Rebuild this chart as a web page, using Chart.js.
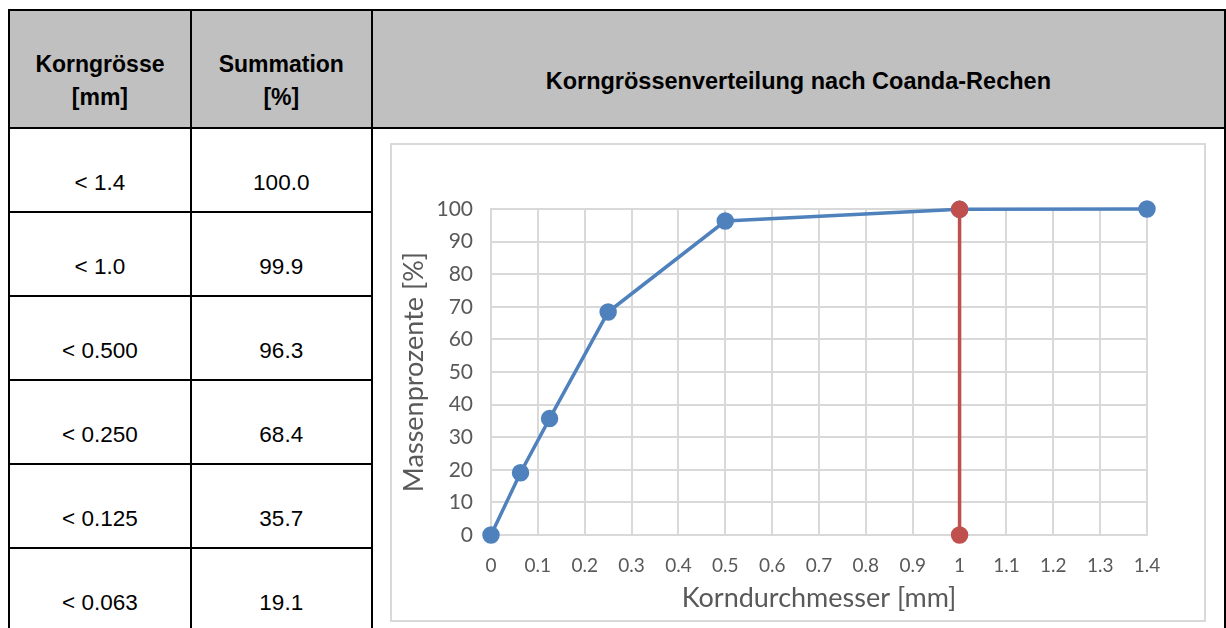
<!DOCTYPE html>
<html>
<head>
<meta charset="utf-8">
<script src="https://cdn.jsdelivr.net/npm/chart.js@4"></script>
<style>
  body { margin: 0; background: #fff; width: 1226px; height: 628px; overflow: hidden; position: relative; }
  table { position: absolute; left: 8px; top: 9px; border-collapse: collapse; table-layout: fixed;
          font-family: "Liberation Sans", Arial, sans-serif; font-size: 22.5px; color: #000; }
  td, th { border: 2px solid #000; text-align: center; padding: 0; }
  th { background: #c0c0c0; height: 118px; font-weight: bold; font-size: 23px; padding-top: 24px; line-height: 33px; box-sizing: border-box; }
  th.titel { font-size: 23.5px; }
  td { height: 84px; padding-top: 26px; box-sizing: border-box; }
  #frame { position: absolute; left: 390px; top: 143px; width: 812px; height: 475px;
           border: 2px solid #d9d9d9; background: #fff; }
</style>
</head>
<body>
<table id="tbl">
  <colgroup><col style="width:182px"><col style="width:181px"><col style="width:855px"></colgroup>
  <thead>
    <tr><th>Korngrösse<br>[mm]</th><th>Summation<br>[%]</th><th class="titel">Korngrössenverteilung nach Coanda-Rechen</th></tr>
  </thead>
  <tbody id="body"></tbody>
</table>
<div id="frame"><canvas id="chart" width="812" height="475"></canvas></div>
<script>
// Tabelle (Werte wie im Original)
const tabelleGroesse = ['< 1.4', '< 1.0', '< 0.500', '< 0.250', '< 0.125', '< 0.063'];
const tabelleSumme = ['100.0', '99.9', '96.3', '68.4', '35.7', '19.1'];

// Kurve Korngrössenverteilung
const korndurchmesser = [0, 0.063, 0.125, 0.25, 0.5, 1.0, 1.4];
const massenprozente = [0, 19.1, 35.7, 68.4, 96.3, 99.9, 100];

// Rote Linie bei 1 mm
const trennX = [1, 1];
const trennY = [0, 99.9];

const xTicks = ['0', '0.1', '0.2', '0.3', '0.4', '0.5', '0.6', '0.7', '0.8', '0.9', '1', '1.1', '1.2', '1.3', '1.4'];
const yTicks = ['0', '10', '20', '30', '40', '50', '60', '70', '80', '90', '100'];

// --- Tabelle aufbauen ---
const tbody = document.getElementById('body');
tabelleGroesse.forEach((g, i) => {
  const tr = document.createElement('tr');
  tr.innerHTML = `<td>${g}</td><td>${tabelleSumme[i]}</td>` + (i === 0 ? `<td rowspan="${tabelleGroesse.length}"></td>` : '');
  tbody.appendChild(tr);
});

// --- Diagramm ---
const grau = '#d9d9d9';
const schrift = '#595959';

new Chart(document.getElementById('chart'), {
  type: 'scatter',
  data: {
    datasets: [
      {
        data: korndurchmesser.map((x, i) => ({ x: x, y: massenprozente[i] })),
        showLine: true, borderColor: '#4f81bd', backgroundColor: '#4f81bd',
        borderWidth: 3.5, pointRadius: 7, pointHoverRadius: 7, clip: false, order: 1
      },
      {
        data: trennX.map((x, i) => ({ x: x, y: trennY[i] })),
        showLine: true, borderColor: '#c0504d', backgroundColor: '#c0504d',
        borderWidth: 3.5, pointRadius: 7, pointHoverRadius: 7, clip: false, order: 0
      }
    ]
  },
  options: {
    responsive: false, animation: false,
    layout: { padding: { left: 0, top: 64, right: 57, bottom: 6 } },
    plugins: { legend: { display: false }, tooltip: { enabled: false } },
    scales: {
      x: {
        type: 'linear', min: 0, max: 1.4,
        afterFit: s => { s.height = 79; },
        grid: { color: grau, lineWidth: 2, drawTicks: false },
        border: { color: grau, width: 2 },
        ticks: { stepSize: 0.1, padding: 19, color: schrift, font: { family: 'Lato', size: 19 },
                 maxRotation: 0, autoSkip: false, callback: (v, i) => xTicks[i] },
        title: { display: true, text: 'Korndurchmesser [mm]', color: schrift,
                 font: { family: 'Lato', size: 27 }, padding: { top: 0, bottom: 0 } }
      },
      y: {
        min: 0, max: 100,
        afterFit: s => { s.width = 99; },
        grid: { color: grau, lineWidth: 2, drawTicks: false },
        border: { color: grau, width: 2 },
        ticks: { stepSize: 10, padding: 18, color: schrift, font: { family: 'Lato', size: 21 },
                 callback: (v, i) => yTicks[i] },
        title: { display: true, text: 'Massenprozente [%]', color: schrift,
                 font: { family: 'Lato', size: 27 }, padding: { top: 6, bottom: 0 } }
      }
    }
  }
});
</script>
</body>
</html>
